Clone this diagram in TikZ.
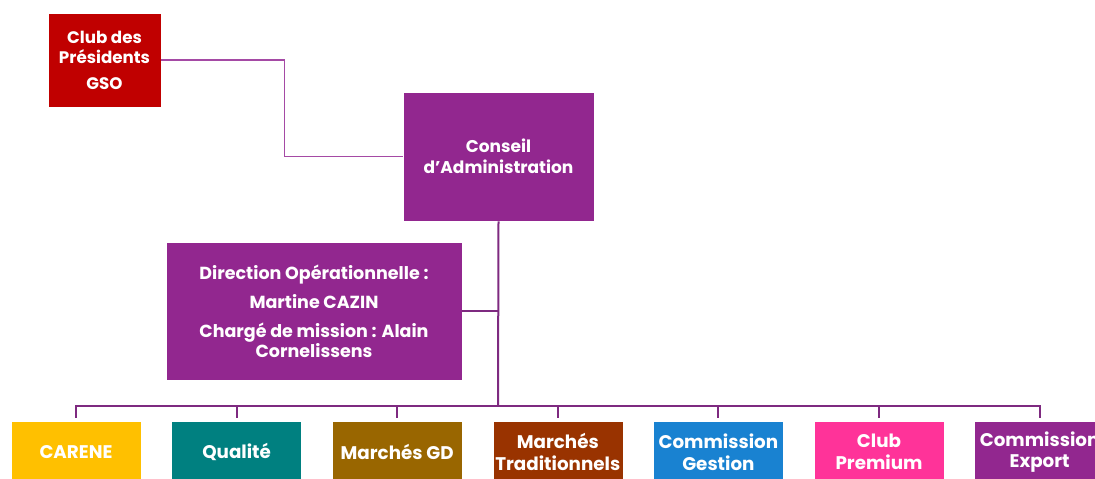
\documentclass[tikz,border=0pt]{standalone}
\usepackage{fontspec}
\setmainfont{Poppins}
\usetikzlibrary{positioning,calc}
\definecolor{ClubRed}{HTML}{C00000}
\definecolor{CaPurple}{HTML}{92278F}
\definecolor{LinePurple}{HTML}{7E2A80}
\definecolor{LinkPurple}{HTML}{A54AA5}
\definecolor{Carene}{HTML}{FFC000}
\definecolor{Qual}{HTML}{008080}
\definecolor{MarGD}{HTML}{996600}
\definecolor{MarTrad}{HTML}{993300}
\definecolor{ComGes}{HTML}{1982D1}
\definecolor{ClubPrem}{HTML}{FF3399}

\begin{document}
\begin{tikzpicture}[
    x=1pt, y=-1pt,
    font=\bfseries,
    topbox/.style={draw=white, line width=0.6pt, align=center, text=white, inner sep=2pt},
    unitbox/.style={topbox, minimum width=130pt, minimum height=62pt, font=\bfseries\fontsize{18.3}{21.5}\selectfont},
    link/.style={draw=LinePurple, line width=2pt},
    thinlink/.style={draw=LinkPurple, line width=1.5pt}
]
\clip (0,0) rectangle (1095,479);
\useasboundingbox (0,0) rectangle (1095,479);
\node[topbox, fill=ClubRed, minimum width=113pt, minimum height=94pt,
      font=\bfseries\fontsize{16.7}{20}\selectfont] (club) at (104.5,60) {Club des\\Présidents\\[6pt]GSO};
\node[topbox, fill=CaPurple, minimum width=191pt, minimum height=129pt,
      font=\bfseries\fontsize{17}{21}\selectfont] (conseil) at (498.5,156.5) {Conseil\\d’Administration};
\node[topbox, fill=CaPurple, minimum width=296pt, minimum height=138pt,
      font=\bfseries\fontsize{17.5}{20}\selectfont] (direction) at (314,311)
      {Direction Opérationnelle :\\[9pt]Martine CAZIN\\[9pt]Chargé de mission : Alain\\Cornelissens};
\node[unitbox, fill=Carene] (carene) at (76,452) {CARENE};
\node[unitbox, fill=Qual, right=30pt of carene] (qualite) {Qualité};
\node[unitbox, fill=MarGD, right=30pt of qualite] (margd) {Marchés GD};
\node[unitbox, fill=MarTrad, right=30pt of margd] (martrad) {Marchés\\Traditionnels};
\node[unitbox, fill=ComGes, right=30pt of martrad] (comges) {Commission\\Gestion};
\node[unitbox, fill=ClubPrem, right=30pt of comges] (clubprem) {Club\\Premium};
\node[unitbox, fill=CaPurple, right=30pt of clubprem] (comexp) {Commission\\Export};
\coordinate (bus) at (498,406);
% liaisons
\draw[thinlink] (club.east) -- ++(123,0) |- (conseil.west);
\draw[link] (conseil.south) -- (bus);
\draw[link] (direction.east) -- (direction.east -| conseil.south);
\draw[link] ([yshift=3pt]carene.north) |- (bus) -| ([yshift=3pt]comexp.north);
\foreach \n in {qualite,margd,martrad,comges,clubprem}
  \draw[link] ([yshift=3pt]\n.north) -- (\n.north |- bus);
\end{tikzpicture}
\end{document}
